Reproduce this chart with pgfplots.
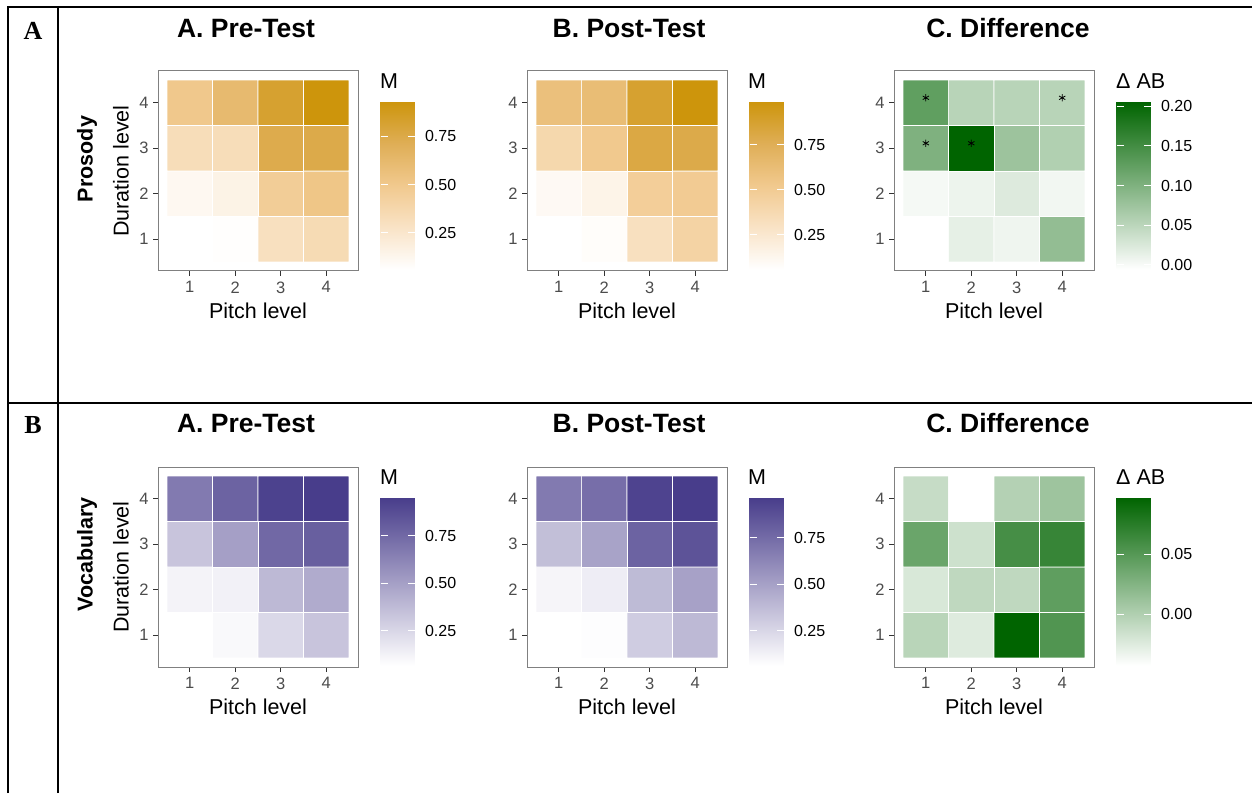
\documentclass[border=0pt]{standalone}
\usepackage{pgfplots}
\pgfplotsset{compat=1.18}
\usepackage{fontspec}
\setmainfont{Liberation Sans}
\newfontfamily\serifbf{Liberation Serif}
\newcommand\ticksize{\fontsize{16.5}{18}\selectfont}
\newcommand\labsize{\fontsize{21.5}{24}\selectfont}
\newcommand\cbsize{\fontsize{16}{18}\selectfont}
\newcommand\titsize{\fontsize{26.5}{30}\selectfont\bfseries}
\pgfplotsset{
  colormap={goldmap}{rgb255=(255,255,255) rgb255=(249,227,198) rgb255=(241,201,142) rgb255=(223,174,86) rgb255=(205,149,12)},
  colormap={purpmap}{rgb255=(255,255,255) rgb255=(72,61,139)},
  colormap={greenmap}{rgb255=(255,255,255) rgb255=(0,100,0)},
  /pgf/number format/assume math mode=true,
  hm/.style={
    scale only axis, width=200pt, height=200pt,
    xmin=0.3, xmax=4.7, ymin=0.3, ymax=4.7,
    xtick={1,2,3,4}, ytick={1,2,3,4},
    tick align=outside, xtick pos=bottom, ytick pos=left,
    major tick length=5pt,
    tick style={draw=black!80, line width=1pt},
    axis line style={draw=black!50, line width=1pt},
    ticklabel style={font=\ticksize, text=black!70},
    xticklabel style={yshift=-2pt},
    yticklabel style={xshift=-1pt},
    xlabel={Pitch level},
    xlabel style={font=\labsize, at={(axis description cs:0.5,-0.2)}, anchor=center},
    ylabel style={font=\labsize, at={(axis description cs:-0.185,0.5)}, anchor=center},
    axis on top,
    colorbar,
    colorbar/width=34pt,
    colorbar style={
      at={(parent axis.south east)}, anchor=south west, xshift=14pt, yshift=1.5pt,
      scale only axis, width=34pt, height=168pt,
      axis line style={draw=none},
      ytick pos=both, yticklabel pos=right, tick align=inside,
      major tick length=7pt,
      scaled y ticks=false,
      ytick style={draw=white, line width=0.8pt},
      yticklabel style={font=\cbsize, text=black, xshift=7pt, /pgf/number format/fixed, /pgf/number format/fixed zerofill, /pgf/number format/precision=2},
    },
  },
  tiles/.style={matrix plot*, mesh/cols=4, point meta=explicit, shader=faceted, faceted color=white, line width=0.6pt},
}
\begin{document}
\begin{tikzpicture}
\useasboundingbox (0pt,0pt) rectangle (1252pt,793pt);
% table lines
\draw[line width=1.7pt] (8pt,0pt) -- (8pt,786pt) -- (1252pt,786pt);
\draw[line width=1.7pt] (58pt,0pt) -- (58pt,786pt);
\draw[line width=1.7pt] (8pt,390pt) -- (1252pt,390pt);
\node[font=\serifbf\fontsize{26}{30}\selectfont\bfseries] at (33pt,762pt) {A};
\node[font=\serifbf\fontsize{26}{30}\selectfont\bfseries] at (33pt,368pt) {B};
% titles
\foreach \cx/\t in {246/A. Pre-Test, 629/B. Post-Test, 1008/C. Difference}{
  \node[font=\titsize] at (\cx pt,764.5pt) {\t};
  \node[font=\titsize] at (\cx pt,369.5pt) {\t};
}
\node[font=\labsize\bfseries, rotate=90] at (87pt,634pt) {Prosody};
\node[font=\labsize\bfseries, rotate=90] at (87pt,238.5pt) {Vocabulary};
% legend titles
\foreach \lx in {380,748}{
  \node[font=\labsize, anchor=west, inner sep=0pt] at (\lx pt,712pt) {M};
  \node[font=\labsize, anchor=west, inner sep=0pt] at (\lx pt,316pt) {M};
}
\node[font=\labsize, anchor=west, inner sep=0pt] at (1116pt,712pt) {Δ AB};
\node[font=\labsize, anchor=west, inner sep=0pt] at (1116pt,316pt) {Δ AB};

% ---------- Row A: Prosody ----------
\begin{axis}[hm, at={(158pt,522pt)}, anchor=south west, ylabel={Duration level},
  colormap name=goldmap, point meta min=0.06, point meta max=0.93,
  colorbar style={ytick={0.25,0.5,0.75}}]
\addplot[tiles] table[meta=c]{
x y c
1 1 0.060
2 1 0.069
3 1 0.304
4 1 0.347
1 2 0.112
2 2 0.156
3 2 0.460
4 2 0.521
1 3 0.330
2 3 0.330
3 3 0.739
4 3 0.747
1 4 0.504
2 4 0.617
3 4 0.826
4 4 0.930
};
\end{axis}

\begin{axis}[hm, at={(527pt,522pt)}, anchor=south west,
  colormap name=goldmap, point meta min=0.056, point meta max=0.99,
  colorbar style={ytick={0.25,0.5,0.75}}]
\addplot[tiles] table[meta=c]{
x y c
1 1 0.056
2 1 0.075
3 1 0.318
4 1 0.430
1 2 0.103
2 2 0.149
3 2 0.476
4 2 0.504
1 3 0.392
2 3 0.523
3 3 0.813
4 3 0.794
1 4 0.598
2 4 0.626
3 4 0.878
4 4 0.990
};
\end{axis}

\begin{axis}[hm, at={(894pt,522pt)}, anchor=south west,
  colormap name=greenmap, point meta min=-0.006, point meta max=0.206,
  colorbar style={ytick={0,0.05,0.1,0.15,0.2}}]
\addplot[tiles] table[meta=c]{
x y c
1 1 -0.006
2 1 0.015
3 1 0.007
4 1 0.083
1 2 0.002
2 2 0.009
3 2 0.022
4 2 0.005
1 3 0.100
2 3 0.206
3 3 0.075
4 3 0.058
1 4 0.125
2 4 0.053
3 4 0.053
4 4 0.053
};
\addplot[only marks, mark=asterisk, mark size=3.6pt, mark options={black, line width=0.8pt, yshift=5pt}] coordinates {(1,4) (4,4) (1,3) (2,3)};
\end{axis}

% ---------- Row B: Vocabulary ----------
\begin{axis}[hm, at={(158pt,126pt)}, anchor=south west, ylabel={Duration level},
  colormap name=purpmap, point meta min=0.066, point meta max=0.95,
  colorbar style={ytick={0.25,0.5,0.75}}]
\addplot[tiles] table[meta=c]{
x y c
1 1 0.066
2 1 0.093
3 1 0.243
4 1 0.331
1 2 0.119
2 2 0.128
3 2 0.384
4 2 0.446
1 3 0.331
2 3 0.499
3 3 0.747
4 3 0.791
1 4 0.667
2 4 0.773
3 4 0.923
4 4 0.950
};
\end{axis}

\begin{axis}[hm, at={(527pt,126pt)}, anchor=south west,
  colormap name=purpmap, point meta min=0.062, point meta max=0.965,
  colorbar style={ytick={0.25,0.5,0.75}}]
\addplot[tiles] table[meta=c]{
x y c
1 1 0.062
2 1 0.071
3 1 0.297
4 1 0.387
1 2 0.107
2 2 0.143
3 2 0.378
4 2 0.495
1 3 0.360
2 3 0.486
3 3 0.784
4 3 0.857
1 4 0.676
2 4 0.730
3 4 0.929
4 4 0.965
};
\end{axis}

\begin{axis}[hm, at={(894pt,126pt)}, anchor=south west,
  colormap name=greenmap, point meta min=-0.043, point meta max=0.097,
  colorbar style={ytick={0,0.05}}]
\addplot[tiles] table[meta=c]{
x y c
1 1 -0.005
2 1 -0.025
3 1 0.097
4 1 0.052
1 2 -0.022
2 2 -0.008
3 2 -0.008
4 2 0.044
1 3 0.038
2 3 -0.016
3 3 0.058
4 3 0.066
1 4 -0.012
2 4 -0.043
3 4 -0.002
4 4 0.010
};
\end{axis}
\end{tikzpicture}
\end{document}
